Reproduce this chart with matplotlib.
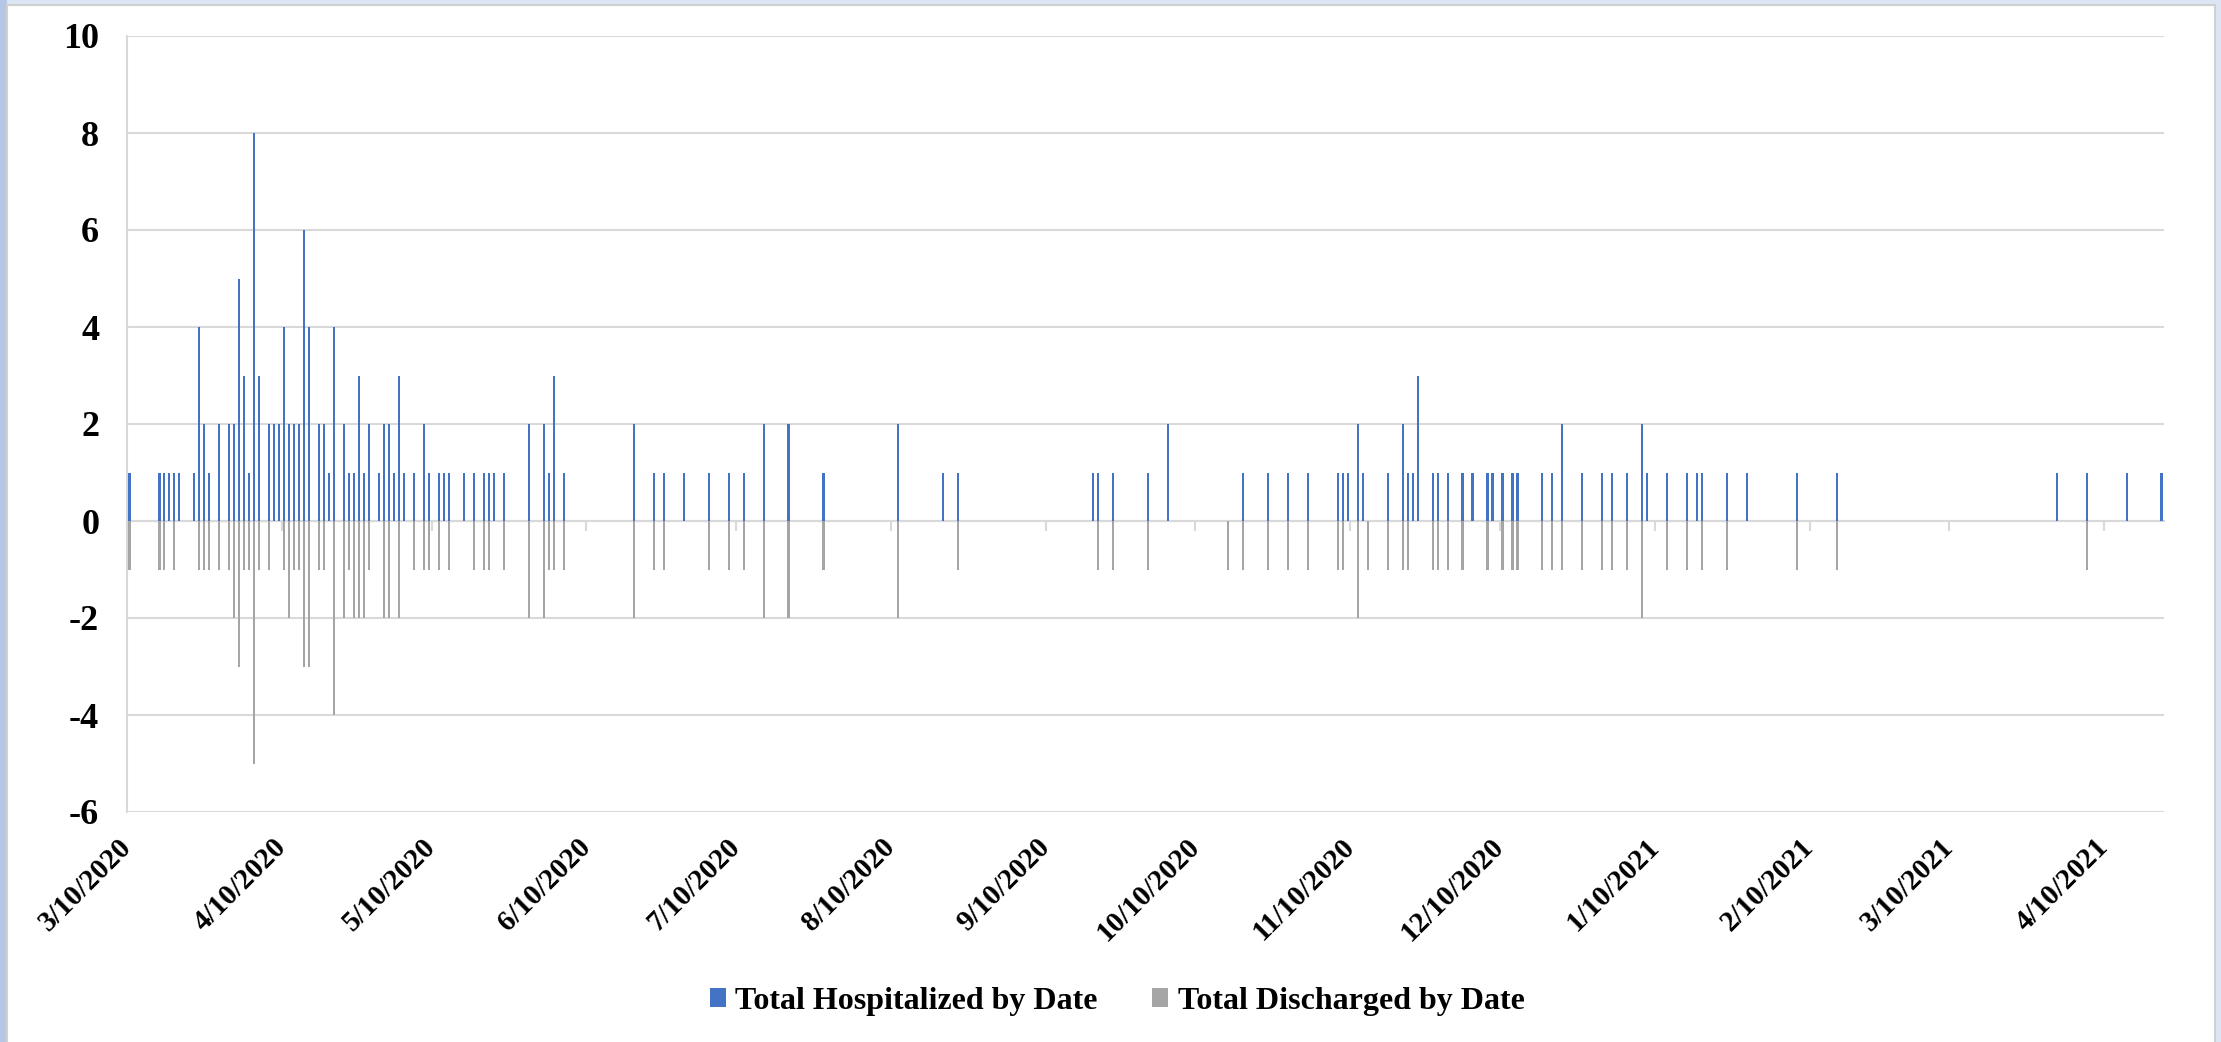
import matplotlib.pyplot as plt
import matplotlib.dates as mdates
import matplotlib.transforms as mtransforms
from matplotlib.patches import Rectangle
import numpy as np
import pandas as pd

# admissions per day
hosp_dates = [
    "2020-03-10", "2020-03-16", "2020-03-17", "2020-03-18", "2020-03-19", "2020-03-20",
    "2020-03-23", "2020-03-24", "2020-03-25", "2020-03-26", "2020-03-28", "2020-03-30",
    "2020-03-31", "2020-04-01", "2020-04-02", "2020-04-03", "2020-04-04", "2020-04-05",
    "2020-04-07", "2020-04-08", "2020-04-09", "2020-04-10", "2020-04-11", "2020-04-12",
    "2020-04-13", "2020-04-14", "2020-04-15", "2020-04-17", "2020-04-18", "2020-04-19",
    "2020-04-20", "2020-04-22", "2020-04-23", "2020-04-24", "2020-04-25", "2020-04-26",
    "2020-04-27", "2020-04-29", "2020-04-30", "2020-05-01", "2020-05-02", "2020-05-03",
    "2020-05-04", "2020-05-06", "2020-05-08", "2020-05-09", "2020-05-11", "2020-05-12",
    "2020-05-13", "2020-05-16", "2020-05-18", "2020-05-20", "2020-05-21", "2020-05-22",
    "2020-05-24", "2020-05-29", "2020-06-01", "2020-06-02", "2020-06-03", "2020-06-05",
    "2020-06-19", "2020-06-23", "2020-06-25", "2020-06-29", "2020-07-04", "2020-07-08",
    "2020-07-11", "2020-07-15", "2020-07-20", "2020-07-27", "2020-08-11", "2020-08-20",
    "2020-08-23", "2020-09-19", "2020-09-20", "2020-09-23", "2020-09-30", "2020-10-04",
    "2020-10-19", "2020-10-24", "2020-10-28", "2020-11-01", "2020-11-07", "2020-11-08",
    "2020-11-09", "2020-11-11", "2020-11-12", "2020-11-17", "2020-11-20", "2020-11-21",
    "2020-11-22", "2020-11-23", "2020-11-26", "2020-11-27", "2020-11-29", "2020-12-02",
    "2020-12-04", "2020-12-07", "2020-12-08", "2020-12-10", "2020-12-12", "2020-12-13",
    "2020-12-18", "2020-12-20", "2020-12-22", "2020-12-26", "2020-12-30", "2021-01-01",
    "2021-01-04", "2021-01-07", "2021-01-08", "2021-01-12", "2021-01-16", "2021-01-18",
    "2021-01-19", "2021-01-24", "2021-01-28", "2021-02-07", "2021-02-15", "2021-03-31",
    "2021-04-06", "2021-04-14", "2021-04-21",
]
hosp_vals = [
    1, 1, 1, 1, 1, 1,
    1, 4, 2, 1, 2, 2,
    2, 5, 3, 1, 8, 3,
    2, 2, 2, 4, 2, 2,
    2, 6, 4, 2, 2, 1,
    4, 2, 1, 1, 3, 1,
    2, 1, 2, 2, 1, 3,
    1, 1, 2, 1, 1, 1,
    1, 1, 1, 1, 1, 1,
    1, 2, 2, 1, 3, 1,
    2, 1, 1, 1, 1, 1,
    1, 2, 2, 1, 2, 1,
    1, 1, 1, 1, 1, 2,
    1, 1, 1, 1, 1, 1,
    1, 2, 1, 1, 2, 1,
    1, 3, 1, 1, 1, 1,
    1, 1, 1, 1, 1, 1,
    1, 1, 2, 1, 1, 1,
    1, 2, 1, 1, 1, 1,
    1, 1, 1, 1, 1, 1,
    1, 1, 1,
]

# discharges per day (shown below zero)
dis_dates = [
    "2020-03-10", "2020-03-16", "2020-03-17", "2020-03-19", "2020-03-24", "2020-03-25",
    "2020-03-26", "2020-03-28", "2020-03-30", "2020-03-31", "2020-04-01", "2020-04-02",
    "2020-04-03", "2020-04-04", "2020-04-05", "2020-04-07", "2020-04-10", "2020-04-11",
    "2020-04-12", "2020-04-13", "2020-04-14", "2020-04-15", "2020-04-17", "2020-04-18",
    "2020-04-20", "2020-04-22", "2020-04-23", "2020-04-24", "2020-04-25", "2020-04-26",
    "2020-04-27", "2020-04-30", "2020-05-01", "2020-05-03", "2020-05-06", "2020-05-08",
    "2020-05-09", "2020-05-11", "2020-05-13", "2020-05-18", "2020-05-20", "2020-05-21",
    "2020-05-24", "2020-05-29", "2020-06-01", "2020-06-02", "2020-06-03", "2020-06-05",
    "2020-06-19", "2020-06-23", "2020-06-25", "2020-07-04", "2020-07-08", "2020-07-11",
    "2020-07-15", "2020-07-20", "2020-07-27", "2020-08-11", "2020-08-23", "2020-09-20",
    "2020-09-23", "2020-09-30", "2020-10-16", "2020-10-19", "2020-10-24", "2020-10-28",
    "2020-11-01", "2020-11-07", "2020-11-08", "2020-11-11", "2020-11-13", "2020-11-17",
    "2020-11-20", "2020-11-21", "2020-11-26", "2020-11-27", "2020-11-29", "2020-12-02",
    "2020-12-07", "2020-12-10", "2020-12-12", "2020-12-13", "2020-12-18", "2020-12-20",
    "2020-12-22", "2020-12-26", "2020-12-30", "2021-01-01", "2021-01-04", "2021-01-07",
    "2021-01-12", "2021-01-16", "2021-01-19", "2021-01-24", "2021-02-07", "2021-02-15",
    "2021-04-06",
]
dis_vals = [
    -1, -1, -1, -1, -1, -1,
    -1, -1, -1, -2, -3, -1,
    -1, -5, -1, -1, -1, -2,
    -1, -1, -3, -3, -1, -1,
    -4, -2, -1, -2, -2, -2,
    -1, -2, -2, -2, -1, -1,
    -1, -1, -1, -1, -1, -1,
    -1, -2, -2, -1, -1, -1,
    -2, -1, -1, -1, -1, -1,
    -2, -2, -1, -2, -1, -1,
    -1, -1, -1, -1, -1, -1,
    -1, -1, -1, -2, -1, -1,
    -1, -1, -1, -1, -1, -1,
    -1, -1, -1, -1, -1, -1,
    -1, -1, -1, -1, -1, -2,
    -1, -1, -1, -1, -1, -1,
    -1,
]

tick_labels = ["3/10/2020", "4/10/2020", "5/10/2020", "6/10/2020", "7/10/2020",
               "8/10/2020", "9/10/2020", "10/10/2020", "11/10/2020", "12/10/2020",
               "1/10/2021", "2/10/2021", "3/10/2021", "4/10/2021"]
x_start = "2020-03-10"
x_end = "2021-04-22"

BLUE = "#4472C4"
GRAY = "#A5A5A5"
GRID = "#D9D9D9"

plt.rcParams['font.family'] = ['Liberation Serif', 'DejaVu Serif']
plt.rcParams['font.weight'] = 'bold'
plt.rcParams['axes.unicode_minus'] = False

fig = plt.figure(figsize=(22.21, 10.42), dpi=100)
fig.patch.set_facecolor("#DCE5F3")
fig.add_artist(Rectangle((0, 0), 7 / 2221, 1, transform=fig.transFigure,
                         fc="#B4C7E7", ec="none", zorder=-2))
fig.add_artist(Rectangle((7 / 2221, -0.01), 2208 / 2221, 1.01 - 5 / 1042,
                         transform=fig.transFigure, fc="white", ec="#D0D0D0",
                         lw=1.5, zorder=-1))

ax = fig.add_axes([127 / 2221, 1 - 812 / 1042, 2037 / 2221, 776 / 1042])
ax.set_facecolor("white")

hx = mdates.date2num(pd.to_datetime(hosp_dates)) + 0.5
dx = mdates.date2num(pd.to_datetime(dis_dates)) + 0.5
ax.bar(hx, hosp_vals, width=0.42, color=BLUE, lw=0, antialiased=False,
       label="Total Hospitalized by Date", zorder=3)
ax.bar(dx, dis_vals, width=0.42, color=GRAY, lw=0, antialiased=False,
       label="Total Discharged by Date", zorder=3)

ax.set_xlim(mdates.date2num(pd.Timestamp(x_start)), mdates.date2num(pd.Timestamp(x_end)))
ax.set_ylim(-6, 10)
ax.set_yticks(np.arange(-6, 11, 2))
ax.yaxis.grid(True, color=GRID, lw=1.5)
ax.set_axisbelow(True)

ticks = mdates.date2num(pd.to_datetime(tick_labels, format="%m/%d/%Y"))
ax.set_xticks(ticks)
ax.set_xticklabels(tick_labels)
shift = mtransforms.ScaledTranslation(10 / 100, 0, fig.dpi_scale_trans)
for lab in ax.get_xticklabels():
    lab.set_rotation(45)
    lab.set_ha("right")
    lab.set_va("center")
    lab.set_rotation_mode("anchor")
    lab.set_fontsize(21)
    lab.set_fontweight("bold")
    lab.set_transform(lab.get_transform() + shift)
plt.setp(ax.get_yticklabels(), fontsize=26, fontweight="bold")
ax.tick_params(axis="x", length=0, pad=22)
ax.tick_params(axis="y", length=0, pad=20)

for s in ["top", "right", "bottom"]:
    ax.spines[s].set_visible(False)
ax.spines["left"].set_color(GRID)
ax.spines["left"].set_linewidth(1.5)

# horizontal axis line crossing at zero, with its tick marks
sec = ax.secondary_xaxis(0, transform=ax.transData)
sec.set_xticks(ticks)
sec.set_xticklabels([])
sec.tick_params(length=7, width=1.5, color=GRID, direction="out")
sec.spines["bottom"].set_color(GRID)
sec.spines["bottom"].set_linewidth(1.5)

fig.legend(loc="center", bbox_to_anchor=(0.503, 0.039), ncol=2, frameon=False,
           prop={'family': ['Liberation Serif'], 'weight': 'bold', 'size': 23},
           handlelength=0.5, handleheight=0.5, handletextpad=0.3, columnspacing=1.7)

fig.savefig("out.png", dpi=100, facecolor=fig.get_facecolor())
